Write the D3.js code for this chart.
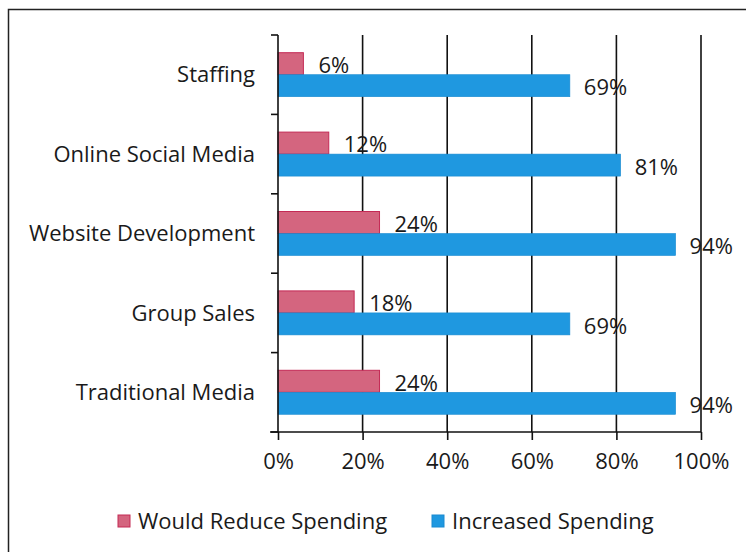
<!DOCTYPE html>
<html>
<head>
<meta charset="utf-8">
<script src="https://cdn.jsdelivr.net/npm/d3@7"></script>
<style>
  html, body { margin: 0; padding: 0; background: #fff; }
  svg { display: block; }
  text { font-family: "Open Sans", sans-serif; fill: #1a1a1a; }
</style>
</head>
<body>
<svg id="chart" width="746" height="552"></svg>
<script>
// Spending categories, top to bottom
const categories = ["Staffing", "Online Social Media", "Website Development", "Group Sales", "Traditional Media"];
// Share of respondents (%)
const reduceSpending = [6, 12, 24, 18, 24];
const increasedSpending = [69, 81, 94, 69, 94];
const xTicks = [0, 20, 40, 60, 80, 100];
const seriesNames = ["Would Reduce Spending", "Increased Spending"];

const svg = d3.select("#chart");
const colors = { reduce: "#d4657f", reduceStroke: "#c42a55", increase: "#1f98e0", increaseStroke: "#1a8ad0" };
const FONT = 22;

// Outer frame
svg.append("rect")
  .attr("x", 8.5).attr("y", 9.5)
  .attr("width", 760).attr("height", 560)
  .attr("fill", "none").attr("stroke", "#222").attr("stroke-width", 1.5);

const plot = { left: 278, right: 701, top: 35, bottom: 432 };

const x = d3.scaleLinear().domain([0, 100]).range([plot.left, plot.right]);
const y = d3.scaleBand().domain(categories).range([plot.top, plot.bottom]).paddingInner(0).paddingOuter(0);
const barH = 22;

const g = svg.append("g");

// Vertical gridlines
g.selectAll("line.grid")
  .data(xTicks.slice(1))
  .join("line")
  .attr("class", "grid")
  .attr("x1", d => x(d)).attr("x2", d => x(d))
  .attr("y1", plot.top).attr("y2", plot.bottom)
  .attr("stroke", "#111").attr("stroke-width", 1.6);

// Bars
const rows = categories.map((c, i) => ({ c, r: reduceSpending[i], inc: increasedSpending[i] }));
const mid = d => y(d.c) + y.bandwidth() / 2;

g.selectAll("rect.reduce")
  .data(rows)
  .join("rect")
  .attr("x", x(0))
  .attr("y", d => mid(d) - barH)
  .attr("width", d => x(d.r) - x(0))
  .attr("height", barH)
  .attr("fill", colors.reduce)
  .attr("stroke", colors.reduceStroke).attr("stroke-width", 1);

g.selectAll("rect.increase")
  .data(rows)
  .join("rect")
  .attr("x", x(0))
  .attr("y", d => mid(d))
  .attr("width", d => x(d.inc) - x(0))
  .attr("height", barH)
  .attr("fill", colors.increase)
  .attr("stroke", colors.increaseStroke).attr("stroke-width", 0.6);

// Value labels
g.selectAll("text.lr")
  .data(rows)
  .join("text")
  .attr("x", d => x(d.r) + 15)
  .attr("y", d => mid(d) - barH / 2 + 1.5)
  .attr("dy", "0.35em")
  .attr("font-size", FONT)
  .text(d => d.r + "%");

g.selectAll("text.li")
  .data(rows)
  .join("text")
  .attr("x", d => x(d.inc) + 14)
  .attr("y", d => mid(d) + barH / 2 + 2)
  .attr("dy", "0.35em")
  .attr("font-size", FONT)
  .text(d => d.inc + "%");

// Axes
const xAxis = d3.axisBottom(x).tickValues(xTicks).tickFormat(d => d + "%").tickSize(8).tickPadding(13);
const xg = svg.append("g").attr("transform", `translate(0,${plot.bottom})`).call(xAxis);
xg.select(".domain").attr("d", `M${plot.left - 8},0H${plot.right}`).attr("stroke", "#111").attr("stroke-width", 1.6);
xg.selectAll(".tick line").attr("stroke", "#111").attr("stroke-width", 1.6);
xg.selectAll(".tick text").attr("font-size", FONT).attr("font-family", "'Open Sans', sans-serif").attr("fill", "#1a1a1a");

const yTickPos = d3.range(categories.length + 1).map(i => plot.top + i * y.step());
const yg = svg.append("g");
yg.append("line")
  .attr("x1", plot.left).attr("x2", plot.left)
  .attr("y1", plot.top).attr("y2", plot.bottom)
  .attr("stroke", "#111").attr("stroke-width", 1.6);
yg.selectAll("line.tk")
  .data(yTickPos)
  .join("line")
  .attr("x1", plot.left - 7).attr("x2", plot.left)
  .attr("y1", d => d).attr("y2", d => d)
  .attr("stroke", "#111").attr("stroke-width", 1.6);
yg.selectAll("text")
  .data(categories)
  .join("text")
  .attr("x", plot.left - 23)
  .attr("y", d => y(d) + y.bandwidth() / 2)
  .attr("dy", "0.35em")
  .attr("text-anchor", "end")
  .attr("font-size", FONT)
  .text(d => d);

// Legend
const legend = svg.append("g");
const legendItems = [
  { name: seriesNames[0], fill: colors.reduce, stroke: colors.reduceStroke, x: 118 },
  { name: seriesNames[1], fill: colors.increase, stroke: colors.increaseStroke, x: 432 }
];
legendItems.forEach(it => {
  legend.append("rect")
    .attr("x", it.x).attr("y", 515).attr("width", 12).attr("height", 12)
    .attr("fill", it.fill).attr("stroke", it.stroke).attr("stroke-width", 1);
  legend.append("text")
    .attr("x", it.x + 20).attr("y", 521).attr("dy", "0.35em")
    .attr("font-size", FONT)
    .text(it.name);
});
</script>
</body>
</html>
